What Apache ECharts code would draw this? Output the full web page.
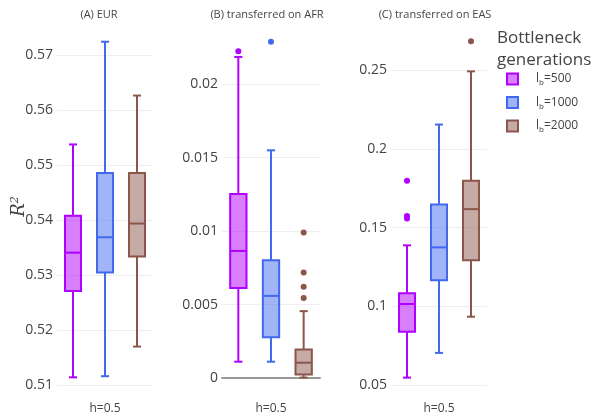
<!DOCTYPE html>
<html>
<head>
<meta charset="utf-8">
<script src="https://cdn.jsdelivr.net/npm/echarts@6/dist/echarts.min.js"></script>
<style>
  html, body { margin: 0; padding: 0; background: #fff; }
  #chart { width: 602px; height: 420px; }
</style>
</head>
<body>
<div id="chart"></div>
<script>
// groups (bottleneck generations)
const groups = ['l_b=500', 'l_b=1000', 'l_b=2000'];
const xLabel = 'h=0.5';
const panelTitles = ['(A) EUR', '(B) transferred on AFR', '(C) transferred on EAS'];

// box stats per group: [lower whisker, q1, median, q3, upper whisker]
const eurBoxes = [
    [0.5114, 0.5271, 0.5341, 0.5408, 0.5538],
    [0.5116, 0.5305, 0.5369, 0.5486, 0.5725],
    [0.5170, 0.5334, 0.5394, 0.5486, 0.5627]
];
const afrBoxes = [
    [0.00111, 0.00613, 0.00865, 0.01252, 0.02186],
    [0.00111, 0.00277, 0.00559, 0.00802, 0.01550],
    [0.00003, 0.00023, 0.00104, 0.00194, 0.00455]
];
const easBoxes = [
    [0.0547, 0.0839, 0.1015, 0.1084, 0.1388],
    [0.0704, 0.1166, 0.1375, 0.1647, 0.2156],
    [0.0934, 0.1293, 0.1618, 0.1799, 0.2494]
];

// outliers per group
const eurOutliers = [[], [], []];
const afrOutliers = [[0.02225], [0.0229], [0.00991, 0.00719, 0.00622, 0.00545]];
const easOutliers = [[0.1799, 0.1575, 0.1558], [], [0.2686]];

// y axis settings per panel
const yMin = [0.51, 0, 0.05];
const yMax = [0.575, 0.0237, 0.275];
const yInterval = [0.01, 0.005, 0.05];

const lineColors = ['#b000ff', '#4169f0', '#8c564b'];
const fillColors = ['rgba(176,0,255,0.5)', 'rgba(65,105,240,0.5)', 'rgba(140,86,75,0.5)'];
const textColor = '#444';

const chart = echarts.init(document.getElementById('chart'));

const grids = [
    {left: 57, top: 28, width: 96, height: 360},
    {left: 222, top: 29.9, width: 98, height: 350.8},
    {left: 391, top: 31.1, width: 96, height: 356.6}
];
const titleX = [99, 267, 435];

function renderBox(params, api) {
    const g = api.value(0);
    const lo = api.coord([g, api.value(1)]);
    const q1 = api.coord([g, api.value(2)]);
    const md = api.coord([g, api.value(3)]);
    const q3 = api.coord([g, api.value(4)]);
    const hi = api.coord([g, api.value(5)]);
    const bw = api.size([1, 0])[0] * 0.5;
    const cw = bw / 2;
    const x = lo[0];
    const stroke = lineColors[g];
    const ls = {stroke: stroke, lineWidth: 2};
    return {
        type: 'group',
        children: [
            {type: 'line', shape: {x1: x, y1: lo[1], x2: x, y2: q1[1]}, style: ls},
            {type: 'line', shape: {x1: x, y1: q3[1], x2: x, y2: hi[1]}, style: ls},
            {type: 'line', shape: {x1: x - cw / 2, y1: lo[1], x2: x + cw / 2, y2: lo[1]}, style: ls},
            {type: 'line', shape: {x1: x - cw / 2, y1: hi[1], x2: x + cw / 2, y2: hi[1]}, style: ls},
            {type: 'rect', shape: {x: x - bw / 2, y: q3[1], width: bw, height: q1[1] - q3[1]},
                style: {fill: fillColors[g], stroke: stroke, lineWidth: 2}},
            {type: 'line', shape: {x1: x - bw / 2, y1: md[1], x2: x + bw / 2, y2: md[1]}, style: ls}
        ]
    };
}

const panelBoxes = [eurBoxes, afrBoxes, easBoxes];
const panelOutliers = [eurOutliers, afrOutliers, easOutliers];

let xAxes = [], yAxes = [], series = [], titles = [];
for (let p = 0; p < 3; p++) {
    titles.push({
        text: panelTitles[p], left: titleX[p], top: 9, padding: 0, textAlign: 'center',
        textStyle: {fontSize: 11, fontWeight: 'normal', color: textColor}
    });
    xAxes.push({
        type: 'category', gridIndex: p, data: groups,
        name: xLabel, nameLocation: 'middle', nameGap: p === 1 ? 25 : 18,
        nameTextStyle: {fontSize: 12, color: textColor},
        axisLabel: {show: false}, axisTick: {show: false},
        axisLine: {show: p === 1, lineStyle: {color: '#999', width: 2}},
        splitLine: {show: false}
    });
    let y = {
        type: 'value', gridIndex: p, min: yMin[p], max: yMax[p], interval: yInterval[p],
        axisLine: {show: false}, axisTick: {show: false},
        axisLabel: {color: textColor, fontSize: 14, margin: 4, showMaxLabel: false},
        splitLine: {show: true, showMaxLine: false, lineStyle: {color: '#eee', width: 1}}
    };
    if (p === 0) {
        y.name = '{i|R}{s|2}';
        y.nameLocation = 'middle';
        y.nameRotate = 90;
        y.nameGap = 29;
        y.nameMoveOverlap = false;
        y.nameTextStyle = {
            rich: {
                i: {fontFamily: 'DejaVu Serif', fontStyle: 'italic', fontSize: 18, color: textColor},
                s: {fontFamily: 'DejaVu Serif', fontStyle: 'italic', fontSize: 11, color: textColor, verticalAlign: 'top'}
            }
        };
    }
    yAxes.push(y);
    for (let g = 0; g < 3; g++) {
        series.push({
            type: 'custom', name: groups[g], xAxisIndex: p, yAxisIndex: p,
            renderItem: renderBox,
            itemStyle: {color: fillColors[g], borderColor: lineColors[g], borderWidth: 2},
            encode: {x: 0, y: [1, 2, 3, 4, 5]},
            data: [[g].concat(panelBoxes[p][g])]
        });
        if (panelOutliers[p][g].length) {
            series.push({
                type: 'scatter', name: groups[g], xAxisIndex: p, yAxisIndex: p,
                symbolSize: 6, itemStyle: {color: lineColors[g], opacity: 1},
                data: panelOutliers[p][g].map(v => [g, v])
            });
        }
    }
}

titles.push({
    text: 'Bottleneck\ngenerations', left: 497, top: 27, padding: 0,
    textStyle: {fontSize: 17, fontWeight: 'normal', color: textColor, lineHeight: 22}
});

let option = {
    animation: false,
    textStyle: {fontFamily: 'Open Sans'},
    title: titles,
    legend: {
        orient: 'vertical', left: 506, top: 72.5, padding: 0,
        itemWidth: 11, itemHeight: 11, itemGap: 9,
        data: groups.map((n, i) => ({
            name: n, icon: 'rect',
            itemStyle: {color: fillColors[i], borderColor: lineColors[i], borderWidth: 2}
        })),
        formatter: function (name) {
            return '{l|l}{b|b}{n|=' + name.split('=')[1] + '}';
        },
        textStyle: {
            rich: {
                l: {fontSize: 12, color: textColor, lineHeight: 16, padding: [0, 0, 0, 13]},
                b: {fontSize: 8, color: textColor, verticalAlign: 'bottom'},
                n: {fontSize: 12, color: textColor, lineHeight: 16}
            }
        }
    },
    grid: grids,
    xAxis: xAxes,
    yAxis: yAxes,
    series: series
};
chart.setOption(option);
</script>
</body>
</html>
